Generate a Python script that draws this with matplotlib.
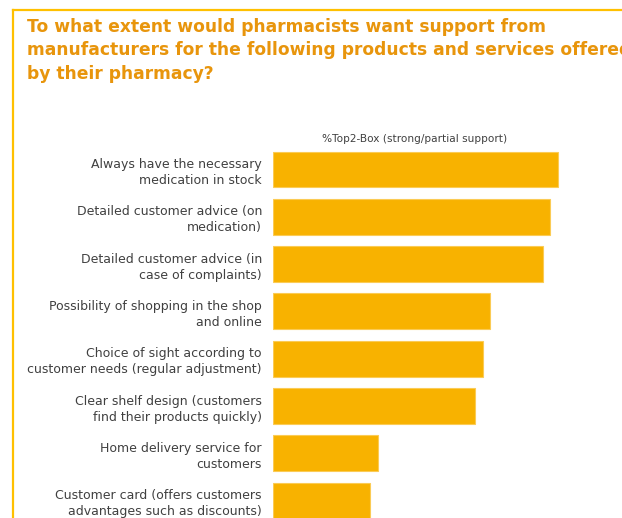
import matplotlib
matplotlib.use("Agg")
import matplotlib.pyplot as plt
from matplotlib.lines import Line2D

# data
categories = [
    "Always have the necessary\nmedication in stock",
    "Detailed customer advice (on\nmedication)",
    "Detailed customer advice (in\ncase of complaints)",
    "Possibility of shopping in the shop\nand online",
    "Choice of sight according to\ncustomer needs (regular adjustment)",
    "Clear shelf design (customers\nfind their products quickly)",
    "Home delivery service for\ncustomers",
    "Customer card (offers customers\nadvantages such as discounts)",
]
top2_box = [76, 74, 72, 58, 56, 54, 28, 26]

title = ("To what extent would pharmacists want support from\n"
         "manufacturers for the following products and services offered\n"
         "by their pharmacy?")
series_label = "%Top2-Box (strong/partial support)"

W, H = 622, 518
bar_color = "#F8B200"
frame_color = "#FFC000"
title_color = "#E8950C"
text_color = "#404040"

fig = plt.figure(figsize=(W / 100, H / 100), dpi=100)

ax_left = 273 / W
ax_top = 120
ax = fig.add_axes([ax_left, 0, 1 - ax_left, (H - ax_top) / H])

pitch = 47.3
first_center = 169.5
ylo = (ax_top - first_center) / pitch
yhi = (H - first_center) / pitch

pos = list(range(len(categories)))
ax.barh(pos, top2_box, height=0.76, color=bar_color, edgecolor="#FBCB55", linewidth=0.8)
ax.set_ylim(yhi, ylo)
ax.set_xlim(0, (W - 273) / 3.746)
ax.set_yticks(pos)
ax.set_yticklabels(categories, fontsize=9.0, color=text_color, linespacing=1.3)
ax.tick_params(axis="y", length=0, pad=8)
ax.set_xticks([])
for s in ax.spines.values():
    s.set_visible(False)

fig.text(415 / W, 1 - 139 / H, series_label, ha="center", va="center",
         fontsize=7.6, color=text_color)

fig.text(27 / W, 1 - 18 / H, title, ha="left", va="top", fontsize=12.3,
         fontweight="bold", color=title_color, linespacing=1.38)

# frame lines
fig.add_artist(Line2D([13 / W, 1], [1 - 10 / H, 1 - 10 / H], color=frame_color,
                      lw=1.6, transform=fig.transFigure))
fig.add_artist(Line2D([13 / W, 13 / W], [0, 1 - 10 / H], color=frame_color,
                      lw=1.6, transform=fig.transFigure))

fig.savefig("out.png", dpi=100)
